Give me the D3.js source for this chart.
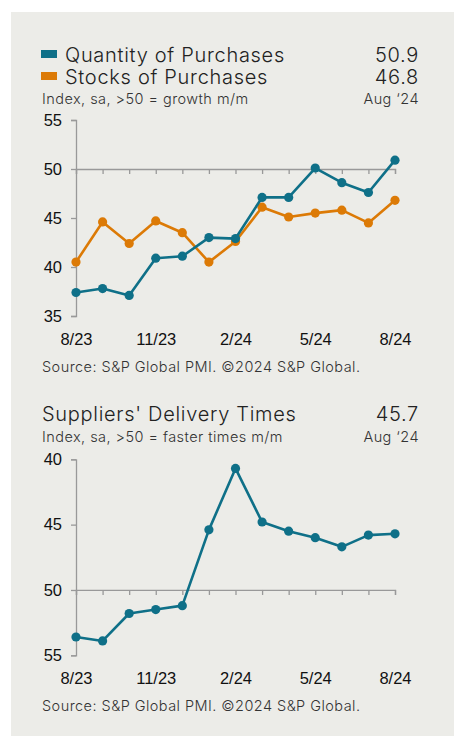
<!DOCTYPE html>
<html>
<head>
<meta charset="utf-8">
<script src="https://cdn.jsdelivr.net/npm/d3@7"></script>
<style>
  body { margin: 0; background: #fff; }
  svg { display: block; }
  .head { font-family: Inter, Roboto, sans-serif; font-weight: 300; fill: #222; letter-spacing: 0.7px; }
  .sub { font-family: Inter, Roboto, sans-serif; font-weight: 300; fill: #333; letter-spacing: 0.45px; }
  .tick text { font-family: "Liberation Sans", Arial, sans-serif; font-size: 16.5px; fill: #111; }
</style>
</head>
<body>
<svg id="canvas" width="454" height="736"></svg>
<script>
var width = 454;
var height = 736;

// months, Aug 2023 .. Aug 2024
var months = ["8/23", "9/23", "10/23", "11/23", "12/23", "1/24", "2/24",
  "3/24", "4/24", "5/24", "6/24", "7/24", "8/24"];
var labelIdx = [0, 3, 6, 9, 12];

var quantity = [37.4, 37.8, 37.1, 40.9, 41.1, 43.0, 42.9, 47.1, 47.1, 50.1, 48.6, 47.6, 50.9];
var stocks = [40.5, 44.6, 42.4, 44.7, 43.5, 40.5, 42.6, 46.1, 45.1, 45.5, 45.8, 44.5, 46.8];
var delivery = [53.6, 53.9, 51.8, 51.5, 51.2, 45.4, 40.7, 44.8, 45.5, 46.0, 46.7, 45.8, 45.7];

var topTicks = [35, 40, 45, 50, 55];
var bottomTicks = [40, 45, 50, 55];

var teal = "#0f7088";
var orange = "#dc7a06";

var svg = d3.select("#canvas");

svg.append("rect")
  .attr("x", 11).attr("y", 12)
  .attr("width", width - 11).attr("height", height - 12)
  .attr("fill", "#ecece8");

var xScale = d3.scaleLinear()
  .domain([0, months.length - 1])
  .range([76, 395]);

// top chart
var yTop = d3.scaleLinear().domain([35, 55]).range([316, 120]);
// bottom chart, inverted
var yBot = d3.scaleLinear().domain([40, 55]).range([459.3, 655.3]);

function drawChart(y, ticks, series, bottomY) {
  var g = svg.append("g");

  // y axis
  g.append("g")
    .attr("transform", "translate(" + xScale(0) + ",0)")
    .call(d3.axisLeft(y).tickValues(ticks).tickSize(5).tickPadding(9))
    .call(function(a) {
      a.select(".domain").attr("stroke", "#999").attr("stroke-width", 1.3);
      a.selectAll(".tick line").attr("stroke", "#999").attr("stroke-width", 1.3);
    });

  // line at 50 with month ticks
  g.append("g")
    .attr("transform", "translate(0," + y(50) + ")")
    .call(d3.axisBottom(xScale).ticks(12).tickSize(5).tickFormat("").tickSizeOuter(5))
    .call(function(a) {
      a.select(".domain").attr("stroke", "#999").attr("stroke-width", 1.3);
      a.selectAll(".tick line").attr("stroke", "#999").attr("stroke-width", 1.3);
    });

  // month labels
  g.append("g")
    .attr("transform", "translate(0," + bottomY + ")")
    .call(d3.axisBottom(xScale).tickValues(labelIdx)
      .tickFormat(function(i) { return months[i]; })
      .tickSize(0).tickPadding(17))
    .call(function(a) { a.select(".domain").remove(); });

  var line = d3.line()
    .x(function(d, i) { return xScale(i); })
    .y(function(d) { return y(d); });

  series.forEach(function(s) {
    g.append("path")
      .datum(s.values)
      .attr("fill", "none")
      .attr("stroke", s.color)
      .attr("stroke-width", 2.6)
      .attr("stroke-linejoin", "round")
      .attr("d", line);

    g.selectAll(null)
      .data(s.values)
      .enter().append("circle")
      .attr("cx", function(d, i) { return xScale(i); })
      .attr("cy", function(d) { return y(d); })
      .attr("r", 4.6)
      .attr("fill", s.color);
  });
}

drawChart(yTop, topTicks, [
  {values: stocks, color: orange},
  {values: quantity, color: teal}
], yTop(35));
drawChart(yBot, bottomTicks, [
  {values: delivery, color: teal}
], yBot(55));

// headers
function text(x, y, str, size, cls, anchor) {
  svg.append("text")
    .attr("class", cls)
    .attr("x", x).attr("y", y)
    .attr("font-size", size)
    .attr("text-anchor", anchor || "start")
    .text(str);
}

svg.append("rect").attr("x", 41).attr("y", 50).attr("width", 16).attr("height", 8).attr("fill", teal);
svg.append("rect").attr("x", 41).attr("y", 72).attr("width", 16).attr("height", 8).attr("fill", orange);

text(65, 62, "Quantity of Purchases", 20, "head");
text(419, 62, quantity[quantity.length - 1].toFixed(1), 20, "head", "end");
text(65, 83.5, "Stocks of Purchases", 20, "head");
text(419, 83.5, stocks[stocks.length - 1].toFixed(1), 20, "head", "end");
text(42, 103.5, "Index, sa, >50 = growth m/m", 14.5, "sub");
text(419, 103.5, "Aug \u201824", 14.5, "sub", "end");
text(42, 372, "Source: S&P Global PMI. \u00a92024 S&P Global.", 14.5, "sub");

text(42, 421, "Suppliers' Delivery Times", 20, "head");
text(419, 421, delivery[delivery.length - 1].toFixed(1), 20, "head", "end");
text(42, 442, "Index, sa, >50 = faster times m/m", 14.5, "sub");
text(419, 442, "Aug \u201824", 14.5, "sub", "end");
text(42, 711, "Source: S&P Global PMI. \u00a92024 S&P Global.", 14.5, "sub");
</script>
</body>
</html>
